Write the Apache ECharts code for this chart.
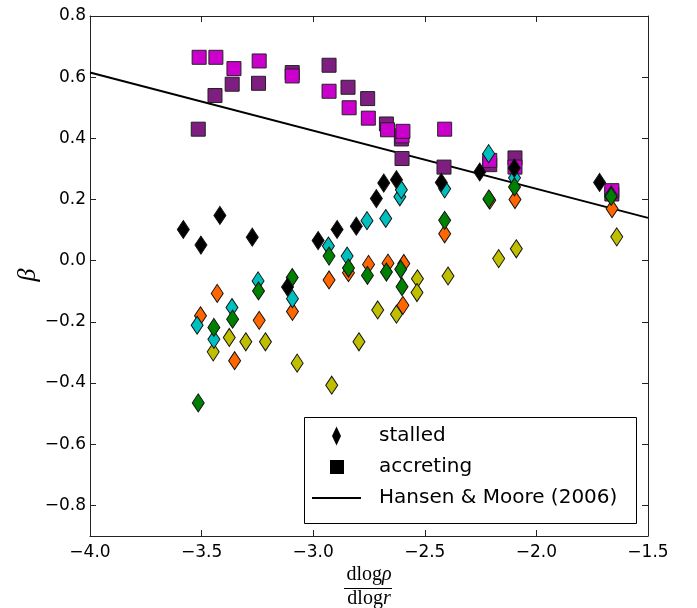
<!DOCTYPE html>
<html>
<head>
<meta charset="utf-8">
<script src="https://cdn.jsdelivr.net/npm/echarts@6/dist/echarts.min.js"></script>
<style>html,body{margin:0;padding:0;background:#fff;}#c{width:697px;height:608px;}</style>
</head>
<body>
<div id="c"></div>
<script>
// ---- data (x = dlog rho / dlog r, y = beta) ----
const accretingPurple = [[-3.515,0.430],[-3.440,0.540],[-3.363,0.577],[-3.245,0.580],[-3.094,0.615],[-2.929,0.639],[-2.844,0.567],[-2.756,0.530],[-2.672,0.447],[-2.605,0.398],[-2.602,0.334],[-2.414,0.306],[-2.209,0.314],[-2.096,0.336],[-1.662,0.218]];
const accretingMagenta = [[-3.511,0.665],[-3.436,0.665],[-3.355,0.628],[-3.242,0.653],[-3.094,0.604],[-2.929,0.554],[-2.839,0.500],[-2.753,0.466],[-2.667,0.428],[-2.602,0.408],[-2.598,0.423],[-2.411,0.430],[-2.209,0.328],[-2.096,0.306],[-1.662,0.229]];
const stalledBlack = [[-3.582,0.102],[-3.503,0.051],[-3.418,0.148],[-3.273,0.077],[-3.115,-0.086],[-2.978,0.066],[-2.893,0.102],[-2.807,0.113],[-2.717,0.203],[-2.684,0.254],[-2.627,0.265],[-2.426,0.256],[-2.254,0.290],[-2.099,0.303],[-1.717,0.256]];
const stalledCyan = [[-3.520,-0.211],[-3.445,-0.257],[-3.364,-0.153],[-3.247,-0.066],[-3.093,-0.124],[-2.932,0.048],[-2.848,0.015],[-2.759,0.131],[-2.675,0.138],[-2.612,0.209],[-2.605,0.232],[-2.411,0.235],[-2.214,0.350],[-2.098,0.271],[-1.665,0.215]];
const stalledGreen = [[-3.515,-0.465],[-3.445,-0.218],[-3.361,-0.191],[-3.245,-0.099],[-3.094,-0.055],[-2.929,0.015],[-2.842,-0.024],[-2.757,-0.048],[-2.672,-0.037],[-2.608,-0.028],[-2.602,-0.085],[-2.411,0.132],[-2.213,0.202],[-2.098,0.241],[-1.665,0.210]];
const stalledOrange = [[-3.505,-0.180],[-3.430,-0.107],[-3.352,-0.327],[-3.242,-0.195],[-3.093,-0.166],[-2.929,-0.063],[-2.842,-0.039],[-2.752,-0.012],[-2.665,-0.008],[-2.594,-0.009],[-2.598,-0.146],[-2.411,0.088],[-2.209,0.198],[-2.096,0.200],[-1.661,0.170]];
const stalledOlive = [[-3.448,-0.298],[-3.376,-0.251],[-3.302,-0.265],[-3.214,-0.265],[-3.072,-0.335],[-2.917,-0.407],[-2.795,-0.265],[-2.711,-0.161],[-2.627,-0.175],[-2.533,-0.059],[-2.535,-0.104],[-2.396,-0.050],[-2.169,0.007],[-2.090,0.039],[-1.640,0.078]];
const lineX = [-4.0, -1.5];
const lineY = [0.615, 0.140];
const yTicks = [-0.8,-0.6,-0.4,-0.2,0.0,0.2,0.4,0.6,0.8];
const legendNames = ['stalled','accreting','Hansen & Moore (2006)'];

const fmt = v => { const a = Math.abs(v) < 1e-9 ? 0 : v; return (a < 0 ? '\u2212' : '') + Math.abs(a).toFixed(1); };
const tickFont = {fontFamily:'DejaVu Sans', fontSize:17, color:'#000'};
const axLine = {onZero:false, lineStyle:{color:'#222', width:1}};
const tick = {inside:true, length:6, lineStyle:{color:'#222', width:1}};

function sq(name, data, color){
  return {name, type:'scatter', data, symbol:'rect', symbolSize:14,
    itemStyle:{color, borderColor:'#222', borderWidth:1, opacity:1}, z:3};
}
function dm(name, data, color){
  return {name, type:'scatter', data, symbol:'diamond', symbolSize:[12,18],
    itemStyle:{color, borderColor:'#111', borderWidth:1, opacity:1}, z:4};
}

const chart = echarts.init(document.getElementById('c'), null, {renderer:'canvas'});
const legendText = {fontFamily:'DejaVu Sans', fontSize:20, color:'#000', lineHeight:20};
const serifU = {fontFamily:'Liberation Serif', fontSize:20, fill:'#000'};
const serifI = {fontFamily:'Liberation Serif', fontStyle:'italic', fontSize:20, fill:'#000'};
chart.setOption({
  animation:false,
  backgroundColor:'#fff',
  grid:{left:90, right:49, top:16, bottom:72, containLabel:false},
  xAxis:[
    {type:'value', min:-4.0, max:-1.5, interval:0.5, position:'bottom',
     axisLine:axLine, axisTick:tick, splitLine:{show:false},
     axisLabel:{...tickFont, margin:8, formatter:fmt}},
    {type:'value', min:-4.0, max:-1.5, interval:0.5, position:'top',
     axisLine:axLine, axisTick:tick, splitLine:{show:false}, axisLabel:{show:false}}
  ],
  yAxis:[
    {type:'value', min:-0.9, max:0.8, position:'left',
     axisLine:{show:true, ...axLine}, axisTick:{...tick, customValues:yTicks}, splitLine:{show:false},
     axisLabel:{...tickFont, margin:4, customValues:yTicks, formatter:fmt}},
    {type:'value', min:-0.9, max:0.8, position:'right',
     axisLine:{show:true, ...axLine}, axisTick:{...tick, customValues:yTicks}, splitLine:{show:false},
     axisLabel:{show:false}}
  ],
  legend:[
    {data:[{name:legendNames[0], icon:'diamond', itemStyle:{color:'#000', opacity:1}}], left:332, top:426, padding:0,
     itemWidth:9, itemHeight:19, selectedMode:false, textStyle:{...legendText, padding:[0,0,0,33]}},
    {data:[{name:legendNames[1], icon:'rect', itemStyle:{color:'#000', opacity:1}}], left:330, top:457, padding:0,
     itemWidth:14, itemHeight:14, selectedMode:false, textStyle:{...legendText, padding:[0,0,0,30]}},
    {data:[{name:legendNames[2], icon:'rect', itemStyle:{color:'#000', opacity:1}}], left:312, top:488, padding:0,
     itemWidth:49, itemHeight:2, selectedMode:false, textStyle:{...legendText, padding:[0,0,0,13]}}
  ],
  graphic:[
    {type:'rect', shape:{x:304.5, y:417.5, width:332, height:106}, style:{fill:'#fff', stroke:'#000', lineWidth:1}, z:3},
    {type:'text', x:28, y:275, rotation:Math.PI/2, style:{text:'\u03b2', align:'center', verticalAlign:'middle',
      fontFamily:'Liberation Serif', fontStyle:'italic', fontSize:26, fill:'#000'}},
    {type:'text', x:369, y:575, style:{text:'{u|dlog}{i|\u03c1}', align:'center', verticalAlign:'middle', rich:{u:serifU, i:serifI}}},
    {type:'line', shape:{x1:344, y1:588.5, x2:392, y2:588.5}, style:{stroke:'#000', lineWidth:1.2}},
    {type:'text', x:369, y:599, style:{text:'{u|dlog}{i|r}', align:'center', verticalAlign:'middle', rich:{u:serifU, i:serifI}}}
  ],
  series:[
    {name:legendNames[2], type:'line', data:lineX.map((x,i)=>[x,lineY[i]]), symbol:'none', showSymbol:false,
     lineStyle:{color:'#000', width:2}, itemStyle:{color:'#000'}, z:2},
    sq('purple accreting', accretingPurple, '#7E1E80'),
    sq('magenta accreting', accretingMagenta, '#CC00CC'),
    dm('olive stalled', stalledOlive, '#BFBF00'),
    dm('orange stalled', stalledOrange, '#FF6600'),
    dm('cyan stalled', stalledCyan, '#00BFBF'),
    dm('green stalled', stalledGreen, '#008000'),
    dm('black stalled', stalledBlack, '#000000'),
    {name:legendNames[0], type:'scatter', data:[], symbol:'diamond', itemStyle:{color:'#000', opacity:1}},
    {name:legendNames[1], type:'scatter', data:[], symbol:'rect', itemStyle:{color:'#000', opacity:1}}
  ]
});
</script>
</body>
</html>
